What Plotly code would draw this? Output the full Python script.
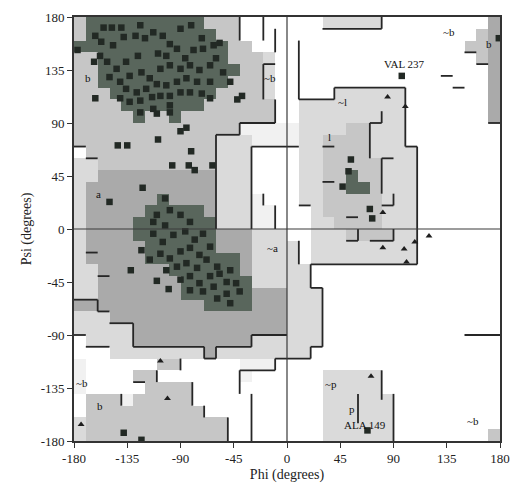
import plotly.graph_objects as go

# ---------------- data ----------------
# region map on a 10-degree grid; rows from psi 170..180 (top) down to psi -180..-170 (bottom)
# columns phi -180..-170 (left) to 170..180 (right)
# '.' disallowed, 'w' faint generous, '1' generous, '2' allowed (light), '3' allowed (textured), '4' core
region_rows = [
    "24444444444222.......11111.........3",  # 170
    "24444444444422....................23",  # 160
    "444444444444422..................223",  # 150
    "22444444444442221.................23",  # 140
    "22444444444444221..................3",  # 130
    "22444444444442221..................3",  # 120
    "22244444444422221.....111111.......3",  # 110
    "22224444444222222..111111111.......3",  # 100
    "22222422422222222..111111111.......3",  # 90
    "22222222222222wwwww111122111........",  # 80
    "222222222222111wwww112222111........",  # 70
    ".22222222222111....1122221111.......",  # 60
    "112222222222111....1122222111.......",  # 50
    "113333333333111....1122422111.......",  # 40
    "133333333333111....1122442111.......",  # 30
    "133333343333111w...1122222111.......",  # 20
    "133333444443111ww...122222111.......",  # 10
    "133334444444111ww...112222111.......",  # 0
    "133334444444333111..111222211.......",  # -10
    "1333334444443331111.111111111.......",  # -20
    "1333334444444431111.111111111.......",  # -30
    "11333333444444311111................",  # -40
    "11333333344444411111................",  # -50
    "113333333444444333111...............",  # -60
    "333333333334444333111...............",  # -70
    "111333333333333333111...............",  # -80
    "111113333333333333111...............",  # -90
    ".11113333333333111111...............",  # -100
    "...11111111311111111................",  # -110
    "w......22.....www...................",  # -120
    "w....22.......w......11111..........",  # -130
    "w.....2222...........11111..........",  # -140
    ".222w22222...........111111.........",  # -150
    ".2222222222..........111111.........",  # -160
    "1222222222222........111111.........",  # -170
    "1222222222222........111111........2",  # -180
]
region_codes = [".", "w", "1", "2", "3", "4"]
region_colors = ["#ffffff", "#f1f1f1", "#dadada", "#c6c6c6", "#aaaaaa", "#59665c"]

# residues (phi, psi) - squares (non-Gly) and triangles (Gly)
sq_phi = [-155, -148, -140, -124, -162, -157, -147, -138, -128, -120, -113, -105, -90, -81, -72,
          -99, -109, -102, -93, -86, -79, -71, -62, -126, -136, -144, -152, -158, -150, -141, -133,
          -123, -116, -107, -99, -90, -82, -74, -65, -60, -54, -48, -65, -76, -85, -93, -102, -110,
          -119, -127, -136, -141, -133, -124, -114, -107, -99, -90, -82, -72, -65, -99, -113, -124, -99,
          -177, -163, -162, -143, -135, -109, -90, -85, -81, -97, -83, -78, -63, -122, -150, -42, -38,
          -57, -110,
          -103, -110, -99, -90, -103, -82, -113,
          -123, -113, -105, -96, -86, -78, -71, -116, -107, -99, -90, -82, -74, -65, -102, -93, -85,
          -76, -68, -59, -90, -82, -74, -65, -57, -48, -82, -71, -62, -51, -43, -59, -51, -40, -48,
          -132, -110, -100,
          54, 52, 47, 70, 72, 97, 179, -138, -123, 68]
sq_psi = [171, 171, 171, 173, 164, 159, 156, 163, 164, 162, 167, 164, 170, 173, 162,
          157, 149, 147, 153, 145, 152, 153, 156, 147, 142, 136, 142, 147, 129, 125, 130,
          133, 128, 136, 139, 136, 139, 135, 139, 145, 133, 125, 125, 125, 128, 125, 122, 123,
          119, 116, 119, 111, 108, 109, 112, 113, 113, 116, 116, 115, 111, 105, 102, 99, 99,
          152, 142, 111, 71, 71, 76, 83, 86, 66, 54, 54, 50, 54, 35, 23, 110, 113,
          158, 98,
          26, 12, 16, 12, 3, 6, 6,
          -18, -4, -11, -5, -2, -9, -4, -26, -21, -25, -19, -16, -22, -15, -35, -32, -29,
          -33, -26, -32, -43, -40, -46, -40, -38, -35, -52, -53, -49, -45, -46, -59, -55, -53, -63,
          -35, -44, -51,
          59, 49, 36, 17, 9, 130, 162, -173, -179, -171]
tri_phi = [85, 100, 81, 81, 99, 108, 101, 120, -107, -101, -174, 71]
tri_psi = [112, 104, 14, -16, -17, -11, -28, -6, -112, -144, -166, -125]

# region boundary segments (phi1, psi1, phi2, psi2)
boundary_segments = [
    (-40, 180, -40, 160), (-20, 180, -20, 160), (-10, 170, -10, 150), (-20, 140, -10, 140),
    (-20, 140, -20, 110), (-10, 110, -10, 90), (-40, 90, -10, 90), (-40, 90, -40, 80),
    (-60, 80, -40, 80), (-60, 80, -60, 0), (-30, 70, -30, 0), (-30, 70, 10, 70),
    (-20, 30, -20, 20), (-10, 20, -10, 0), (10, 160, 10, 110),
    (-180, 70, -170, 70), (-170, 60, -160, 60),
    (-170, -20, -160, -20), (-160, -40, -150, -40), (-180, -60, -160, -60), (-160, -60, -160, -70),
    (-160, -70, -150, -70), (-150, -80, -130, -80), (-130, -80, -130, -100), (-180, -90, -170, -90),
    (-130, -100, -70, -100), (-70, -100, -70, -110), (-70, -110, -60, -110), (-60, -110, -60, -100),
    (-60, -100, -30, -100), (-30, -100, -30, -90), (-30, -90, 0, -90), (-170, -100, -150, -100),
    (-40, -120, -10, -120), (-10, -120, -10, -110), (-10, -110, 20, -110), (20, -110, 20, -100),
    (20, -100, 30, -100), (30, -100, 30, -50), (20, -50, 30, -50), (20, -50, 20, -30),
    (20, -30, 110, -30), (110, -30, 110, 70), (100, 70, 110, 70), (100, 70, 100, 120),
    (40, 120, 100, 120), (40, 120, 40, 110), (10, 110, 40, 110), (10, 20, 20, 20), (10, -10, 10, -30),
    (-40, -120, -40, -140), (-30, -140, -30, -180), (-50, -160, -50, -180), (-70, -150, -70, -160),
    (-80, -130, -80, -150), (-90, -110, -90, -120), (-110, -120, -110, -130), (-130, -130, -120, -130),
    (-140, -140, -140, -150),
    (80, -120, 80, -145), (90, -140, 90, -180), (60, -140, 60, -165),
    (150, -90, 180, -90), (130, 130, 140, 130), (140, 120, 150, 120), (150, 150, 160, 150),
    (160, 140, 170, 140), (170, 90, 180, 90), (30, 170, 80, 170), (80, 170, 80, 180),
    (70, 90, 70, 60), (70, 90, 80, 90), (80, 90, 80, 100), (80, 60, 90, 60), (80, 60, 80, 30),
    (30, 70, 40, 70), (30, 40, 40, 40), (50, 10, 60, 10), (80, 20, 90, 20), (90, 30, 90, 20),
    (50, -10, 60, -10), (60, 0, 60, -10), (70, -10, 90, -10), (90, 0, 90, -10),
]

# region labels (text, phi, psi)
label_text = ["b", "~b", "a", "~a", "~b", "b", "~l", "l", "~p", "p", "ALA 149", "VAL 237", "~b", "b", "~b"]
label_phi = [-168, -14, -159, -12, -173, -158, 47, 36, 37, 55, 66, 99, 137, 171, 157]
label_psi = [128, 128, 30, -16, -131, -150, 108, 78, -132, -153, -166, 140, 167, 157, -163]

tick_vals = [-180, -135, -90, -45, 0, 45, 90, 135, 180]
tick_text = ["-180", "-135", "-90", "-45", "0", "45", "90", "135", "180"]

# ---------------- figure ----------------
cell = 10
n = len(region_rows)
psi_centers = [180 - cell / 2 - cell * i for i in range(n)]
phi_centers = [-180 + cell / 2 + cell * j for j in range(len(region_rows[0]))]
z = [[region_codes.index(ch) for ch in row] for row in region_rows]

ncol = len(region_colors)
colorscale = []
for k, c in enumerate(region_colors):
    colorscale.append([k / ncol, c])
    colorscale.append([(k + 1) / ncol, c])

fig = go.Figure()
fig.add_trace(go.Heatmap(x=phi_centers, y=psi_centers, z=z, colorscale=colorscale,
                         zmin=-0.5, zmax=ncol - 0.5, showscale=False, hoverinfo="skip"))

seg_x, seg_y = [], []
for (a, b, c, d) in boundary_segments:
    seg_x += [a, c, None]
    seg_y += [b, d, None]
fig.add_trace(go.Scatter(x=seg_x, y=seg_y, mode="lines", line=dict(color="#262626", width=1.8),
                         hoverinfo="skip", showlegend=False))

fig.add_trace(go.Scatter(x=sq_phi, y=sq_psi, mode="markers",
                         marker=dict(symbol="square", size=6.5, color="#222924"),
                         showlegend=False))
fig.add_trace(go.Scatter(x=tri_phi, y=tri_psi, mode="markers",
                         marker=dict(symbol="triangle-up", size=6, color="#1e1e1e"),
                         showlegend=False))

for t, px, py in zip(label_text, label_phi, label_psi):
    fig.add_annotation(x=px, y=py, text=t, showarrow=False,
                       font=dict(family="Liberation Serif", size=11, color="#111"))

# axis cross-hair lines through the origin
fig.add_shape(type="line", xref="paper", x0=0, x1=1, yref="y", y0=0, y1=0,
              line=dict(color="#3a3a3a", width=1.2), layer="above")
fig.add_shape(type="line", yref="paper", y0=0, y1=1, xref="x", x0=0, x1=0,
              line=dict(color="#3a3a3a", width=1.2), layer="above")

axis_common = dict(range=[-180, 180], tickmode="array", tickvals=tick_vals, ticktext=tick_text,
                   ticks="outside", ticklen=5, tickwidth=1.2, tickcolor="#333",
                   showline=True, linecolor="#333", linewidth=1.6, mirror=True,
                   showgrid=False, zeroline=False, layer="above traces",
                   tickfont=dict(family="Liberation Serif", size=13, color="#222"))

fig.update_layout(
    width=515, height=483, autosize=False,
    margin=dict(l=74, r=15, t=17, b=42, autoexpand=False),
    paper_bgcolor="white", plot_bgcolor="white",
    showlegend=False,
    xaxis=dict(title=dict(text="Phi (degrees)", standoff=4,
                          font=dict(family="Liberation Serif", size=14, color="#222")),
               **axis_common),
    yaxis=dict(title=dict(text="Psi (degrees)", standoff=6,
                          font=dict(family="Liberation Serif", size=14, color="#222")),
               **axis_common),
)

fig.write_html("out.html", config={"displayModeBar": False, "responsive": False})

# remove the browser's default page margin so the figure sits at the window origin
with open("out.html", "r", encoding="utf-8") as fh:
    page = fh.read()
page = page.replace("<body>", '<body style="margin:0;padding:0;overflow:hidden;">', 1)
page = page.replace("<html>", '<html style="margin:0;padding:0;overflow:hidden;">', 1)
with open("out.html", "w", encoding="utf-8") as fh:
    fh.write(page)
